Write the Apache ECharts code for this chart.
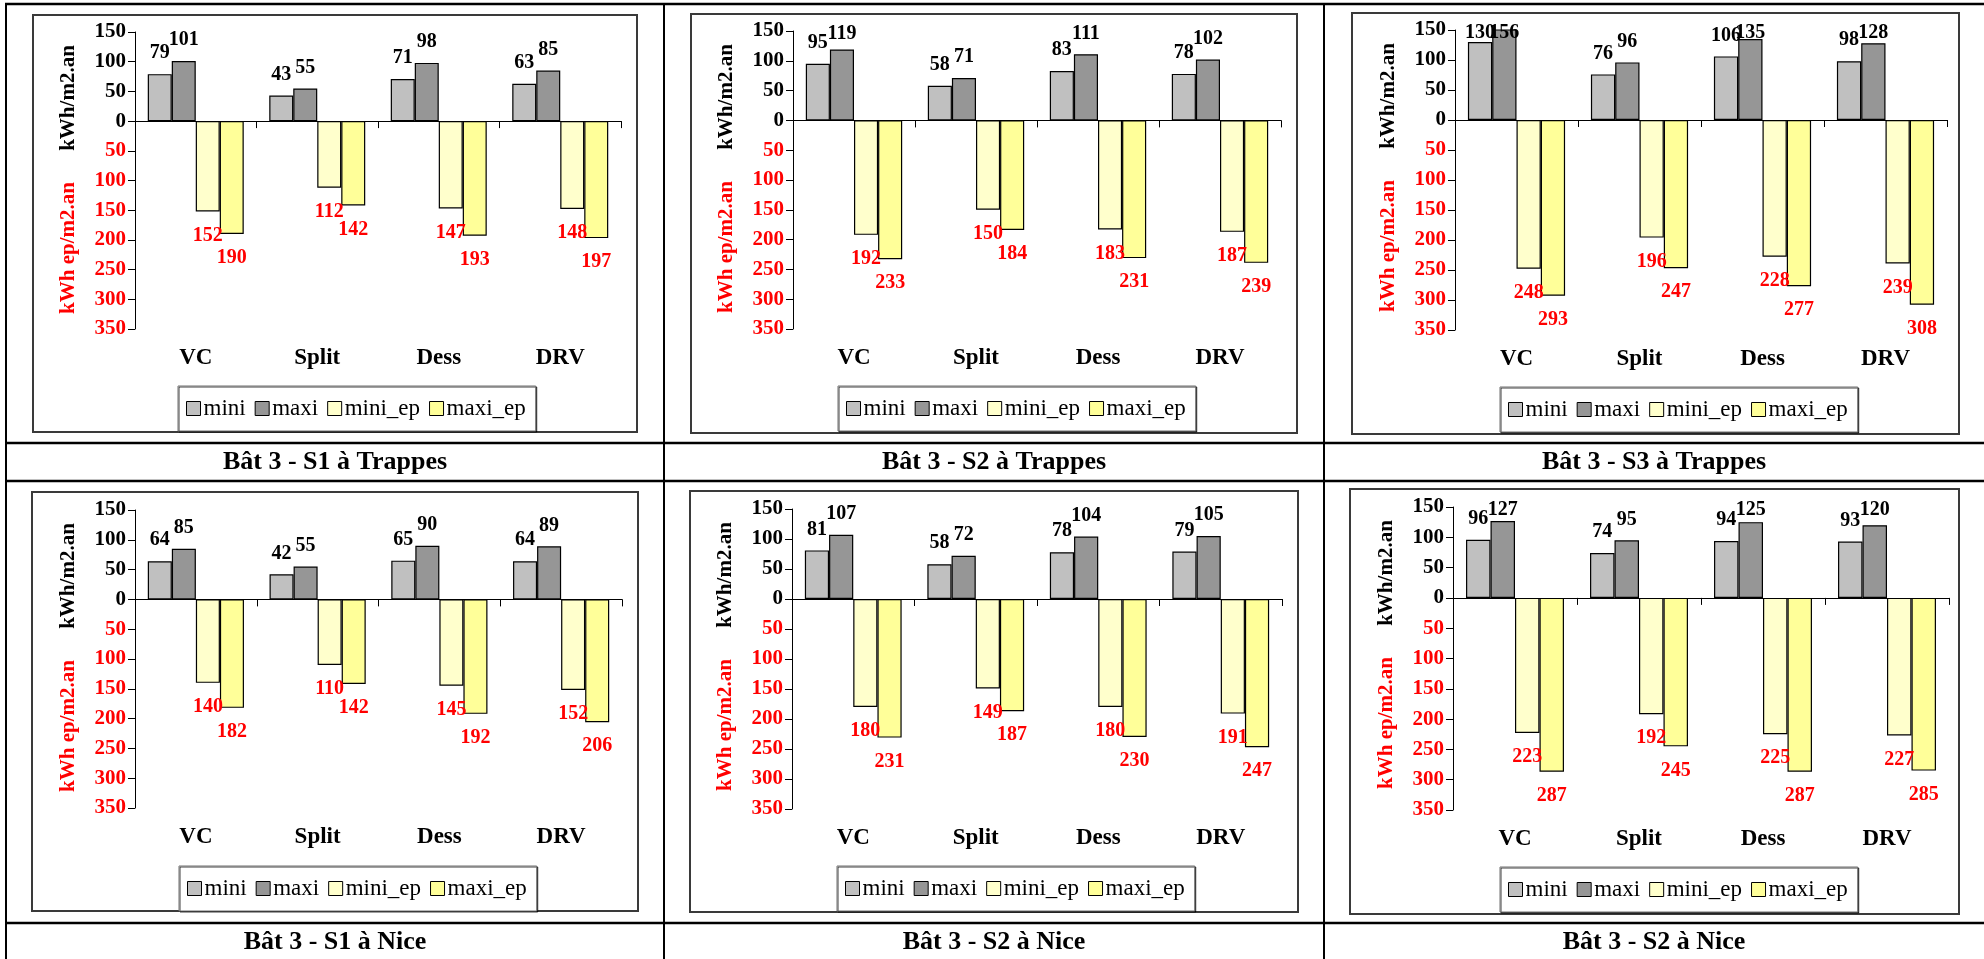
<!DOCTYPE html>
<html><head><meta charset="utf-8">
<script src="https://cdn.jsdelivr.net/npm/echarts@6/dist/echarts.min.js"></script>
<style>html,body{margin:0;padding:0;background:#fff;}#c{width:1984px;height:959px;}</style>
</head><body><div id="c"></div>
<script>
// ---------- data ----------
const categories = ['VC', 'Split', 'Dess', 'DRV'];
const seriesNames = ['mini', 'maxi', 'mini_ep', 'maxi_ep'];
const captions = ['Bât 3 - S1 à Trappes', 'Bât 3 - S2 à Trappes', 'Bât 3 - S3 à Trappes',
                  'Bât 3 - S1 à Nice', 'Bât 3 - S2 à Nice', 'Bât 3 - S2 à Nice'];
const axisTitleTop = 'kWh/m2.an';
const axisTitleBottom = 'kWh ep/m2.an';
const yMin = -350, yMax = 150, yStep = 50;

const p1_mini = [79, 43, 71, 63];
const p1_maxi = [101, 55, 98, 85];
const p1_mini_ep = [152, 112, 147, 148];
const p1_maxi_ep = [190, 142, 193, 197];

const p2_mini = [95, 58, 83, 78];
const p2_maxi = [119, 71, 111, 102];
const p2_mini_ep = [192, 150, 183, 187];
const p2_maxi_ep = [233, 184, 231, 239];

const p3_mini = [130, 76, 106, 98];
const p3_maxi = [156, 96, 135, 128];
const p3_mini_ep = [248, 196, 228, 239];
const p3_maxi_ep = [293, 247, 277, 308];

const p4_mini = [64, 42, 65, 64];
const p4_maxi = [85, 55, 90, 89];
const p4_mini_ep = [140, 110, 145, 152];
const p4_maxi_ep = [182, 142, 192, 206];

const p5_mini = [81, 58, 78, 79];
const p5_maxi = [107, 72, 104, 105];
const p5_mini_ep = [180, 149, 180, 191];
const p5_maxi_ep = [231, 187, 230, 247];

const p6_mini = [96, 74, 94, 93];
const p6_maxi = [127, 95, 125, 120];
const p6_mini_ep = [223, 192, 225, 227];
const p6_maxi_ep = [287, 245, 287, 285];

const panels = [
  [p1_mini, p1_maxi, p1_mini_ep, p1_maxi_ep],
  [p2_mini, p2_maxi, p2_mini_ep, p2_maxi_ep],
  [p3_mini, p3_maxi, p3_mini_ep, p3_maxi_ep],
  [p4_mini, p4_maxi, p4_mini_ep, p4_maxi_ep],
  [p5_mini, p5_maxi, p5_mini_ep, p5_maxi_ep],
  [p6_mini, p6_maxi, p6_mini_ep, p6_maxi_ep]
];

// ---------- layout / style ----------
const FONT = "'Liberation Serif', 'DejaVu Serif', serif";
const colors = ['#C0C0C0', '#969696', '#FFFFCC', '#FFFF99'];
const RED = '#FF0000';
// frame [x,y,w,h], grid [left,top,width,height], legend [left,top]
const layout = [
  {frame: [33, 15, 604, 417], grid: [135, 32, 486, 297], legend: [178, 386]},
  {frame: [691, 14, 606, 419], grid: [793, 31, 488, 298], legend: [838, 386]},
  {frame: [1352, 13, 607, 421], grid: [1455, 30, 492, 300], legend: [1500, 387]},
  {frame: [32, 492, 606, 419], grid: [135, 510, 487, 298], legend: [179, 866]},
  {frame: [690, 491, 608, 421], grid: [792, 509, 490, 300], legend: [837, 866]},
  {frame: [1350, 489, 609, 425], grid: [1453, 507, 496, 303], legend: [1500, 867]}
];
const cellCenters = [335, 994, 1654];
const captionY = [462, 942];

const option = {
  animation: false,
  backgroundColor: '#fff',
  grid: [], xAxis: [], yAxis: [], series: [], legend: [], graphic: []
};

panels.forEach(function (pd, i) {
  const L = layout[i];
  const g = L.grid;
  option.grid.push({left: g[0], top: g[1], width: g[2], height: g[3], containLabel: false});
  // axis on zero line (ticks, no labels)
  option.xAxis.push({
    type: 'category', gridIndex: i, data: categories, position: 'bottom',
    axisLine: {show: true, onZero: true, lineStyle: {color: '#000', width: 1}},
    axisTick: {show: true, length: 7, inside: false, lineStyle: {color: '#000', width: 1}},
    axisLabel: {show: false}, splitLine: {show: false}
  });
  // category labels at the bottom
  option.xAxis.push({
    type: 'category', gridIndex: i, data: categories, position: 'bottom',
    axisLine: {show: false, onZero: false}, axisTick: {show: false}, splitLine: {show: false},
    axisLabel: {show: true, margin: 18, fontSize: 23, fontWeight: 'bold', fontFamily: FONT, color: '#000'}
  });
  option.yAxis.push({
    type: 'value', gridIndex: i, min: yMin, max: yMax, interval: yStep,
    axisLine: {show: true, lineStyle: {color: '#000', width: 1}},
    axisTick: {show: true, length: 7, lineStyle: {color: '#000', width: 1}},
    splitLine: {show: false},
    axisLabel: {
      show: true, margin: 9, fontSize: 21, fontWeight: 'bold', fontFamily: FONT,
      formatter: function (v) { return String(Math.abs(v)); },
      color: function (v) { return Number(v) < 0 ? RED : '#000'; }
    }
  });
  const gridTop = g[1];
  pd.forEach(function (vals, k) {
    const neg = k >= 2;
    option.series.push({
      type: 'bar', name: seriesNames[k], xAxisIndex: 2 * i, yAxisIndex: i,
      data: vals.map(function (v) { return neg ? -v : v; }),
      barGap: '0%', barCategoryGap: '21%',
      itemStyle: {color: colors[k], borderColor: '#000', borderWidth: 1.2},
      label: {
        show: true, position: neg ? 'bottom' : 'top', distance: neg ? 14 : 11,
        fontSize: 20, fontWeight: 'bold', fontFamily: FONT, color: neg ? RED : '#000',
        formatter: function (p) { return String(Math.abs(p.value)); }
      },
      labelLayout: function (params) {
        const lim = gridTop - 7;
        if (!neg && params.labelRect.y < lim) { return {dy: lim - params.labelRect.y}; }
        return {};
      },
      emphasis: {disabled: true}
    });
  });
  option.legend.push({
    show: true, left: L.legend[0], top: L.legend[1], orient: 'horizontal',
    data: seriesNames, icon: 'rect', itemWidth: 14, itemHeight: 14, itemGap: 9,
    padding: [11, 10, 11, 8], borderColor: '#707070', borderWidth: 1, backgroundColor: '#fff',
    shadowColor: 'rgba(0,0,0,0.75)', shadowOffsetX: 1, shadowOffsetY: 1, shadowBlur: 0,
    itemStyle: {borderColor: '#000', borderWidth: 1},
    textStyle: {fontSize: 23, fontFamily: FONT, color: '#000', padding: [0, 0, 0, -2]},
    selectedMode: false
  });
  // chart frame
  option.graphic.push({
    type: 'rect', silent: true, z: 0,
    shape: {x: L.frame[0], y: L.frame[1], width: L.frame[2], height: L.frame[3]},
    style: {fill: 'none', stroke: '#3a3a3a', lineWidth: 2}
  });
  // axis titles
  option.graphic.push({
    type: 'text', silent: true, x: g[0] - 66, y: g[1] + 66, rotation: Math.PI / 2,
    style: {text: axisTitleTop, fontSize: 21, fontWeight: 'bold', fontFamily: FONT, fill: '#000',
            align: 'center', verticalAlign: 'middle', textAlign: 'center', textVerticalAlign: 'middle'}
  });
  option.graphic.push({
    type: 'text', silent: true, x: g[0] - 66, y: g[1] + 216, rotation: Math.PI / 2,
    style: {text: axisTitleBottom, fontSize: 21, fontWeight: 'bold', fontFamily: FONT, fill: RED,
            align: 'center', verticalAlign: 'middle', textAlign: 'center', textVerticalAlign: 'middle'}
  });
  // caption
  option.graphic.push({
    type: 'text', silent: true, x: cellCenters[i % 3], y: captionY[Math.floor(i / 3)],
    style: {text: captions[i], fontSize: 26, fontWeight: 'bold', fontFamily: FONT, fill: '#000',
            align: 'center', verticalAlign: 'middle', textAlign: 'center', textVerticalAlign: 'middle'}
  });
});

// table lines
const hLines = [4, 443, 481, 923];
const vLines = [6, 664, 1324];
hLines.forEach(function (y) {
  option.graphic.push({type: 'line', silent: true, shape: {x1: 5, y1: y, x2: 1984, y2: y},
                       style: {stroke: '#000', lineWidth: 2.5}});
});
vLines.forEach(function (x) {
  option.graphic.push({type: 'line', silent: true, shape: {x1: x, y1: 3, x2: x, y2: 959},
                       style: {stroke: '#000', lineWidth: 2}});
});

const chart = echarts.init(document.getElementById('c'), null, {renderer: 'canvas'});
chart.setOption(option);
</script>
</body></html>
